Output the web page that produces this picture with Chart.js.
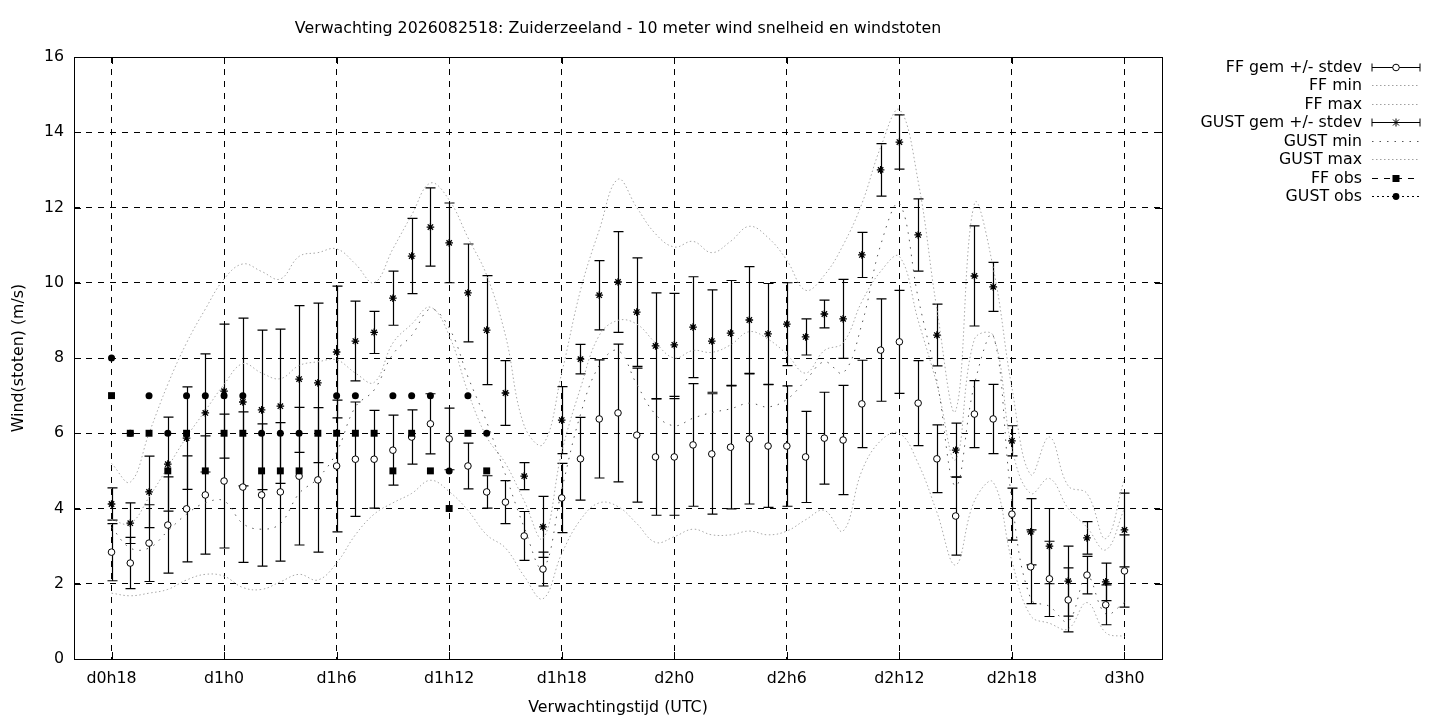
<!DOCTYPE html>
<html>
<head>
<meta charset="utf-8">
<title>Zuiderzeeland wind</title>
<script src="https://cdn.jsdelivr.net/npm/chart.js@4.4.0/dist/chart.umd.min.js"></script>
<style>
html, body { margin: 0; padding: 0; background: #fff; }
#wrap { width: 1440px; height: 720px; }
</style>
</head>
<body>
<div id="wrap"><canvas id="chart-1" width="1440" height="720"></canvas></div>
<script>
// forecast hours since d0h0
var hours = [18,19,20,21,22,23,24,25,26,27,28,29,30,31,32,33,34,35,36,37,38,39,40,41,42,43,44,45,
             46,47,48,49,50,51,52,53,54,55,56,57,58,59,60,61,62,63,64,65,66,67,68,69,70,71,72];

var xTicks = [18, 24, 30, 36, 42, 48, 54, 60, 66, 72];
var xTickLabels = ["d0h18", "d1h0", "d1h6", "d1h12", "d1h18", "d2h0", "d2h6", "d2h12", "d2h18", "d3h0"];

var ffMean = [2.84,2.55,3.08,3.56,3.99,4.36,4.73,4.57,4.36,4.44,4.86,4.76,5.13,5.31,5.31,5.55,5.9,6.25,5.85,5.13,4.44,4.17,3.27,2.39,4.28,5.32,6.38,6.54,
              5.95,5.37,5.37,5.69,5.45,5.63,5.85,5.66,5.66,5.37,5.87,5.82,6.78,8.21,8.43,6.8,5.32,3.8,6.51,6.38,3.85,2.45,2.13,1.57,2.23,1.44,2.34];
var ffStd = [0.76,0.68,1.02,1.28,1.41,1.57,1.78,2.0,1.89,1.84,1.83,1.92,1.75,1.52,1.3,0.93,0.72,0.8,0.82,0.61,0.43,0.57,0.65,0.45,0.92,1.1,1.57,1.83,
             1.78,1.55,1.55,1.63,1.6,1.64,1.73,1.63,1.6,1.21,1.22,1.45,1.16,1.36,1.37,1.13,0.9,1.04,0.89,0.92,0.69,0.98,1.0,0.85,0.5,0.53,0.96];
var gustMean = [4.12,3.61,4.44,5.18,5.87,6.54,7.12,6.83,6.62,6.72,7.44,7.34,8.16,8.45,8.68,9.59,10.71,11.48,11.06,9.73,8.74,7.07,4.86,3.51,6.35,7.97,9.67,10.02,
                9.22,8.32,8.35,8.82,8.45,8.66,9.01,8.64,8.9,8.56,9.17,9.04,10.74,13.0,13.74,11.27,8.61,5.55,10.18,9.89,5.8,3.38,3.0,2.07,3.22,2.05,3.43];
var gustStd = [0.43,0.54,0.95,1.25,1.36,1.57,1.78,2.23,2.12,2.05,1.95,2.12,1.75,1.06,0.56,0.72,1.0,1.04,1.06,1.3,1.45,0.86,0.36,0.81,0.89,0.39,0.92,1.34,
               1.44,1.41,1.37,1.34,1.36,1.4,1.42,1.34,1.1,0.48,0.37,1.05,0.6,0.7,0.72,0.96,0.82,0.72,1.33,0.65,0.4,0.88,1.0,0.93,0.43,0.5,0.98];

var ffMin = [1.75,1.68,1.75,1.85,2.1,2.25,2.2,1.9,1.85,2.05,2.25,2.1,2.55,3.3,3.85,4.15,4.4,4.75,4.45,3.95,3.3,2.95,2.2,1.6,2.8,3.7,4.15,4.05,
             3.6,3.1,3.25,3.45,3.3,3.3,3.4,3.3,3.4,3.7,3.95,3.4,5.0,5.8,6.0,5.2,3.9,2.5,4.2,4.7,2.6,1.15,0.95,0.8,1.5,0.7,0.6];
var ffMax = [3.7,3.6,4.3,5.1,5.9,6.6,7.3,7.85,7.6,7.45,7.8,7.9,7.95,7.6,7.35,8.4,8.9,9.35,8.6,7.1,5.9,5.2,4.2,3.2,5.5,7.2,8.6,9.0,
             8.9,8.4,8.0,8.2,8.15,8.35,8.7,8.5,8.1,7.6,8.2,8.4,9.5,10.3,10.7,9.0,7.3,5.3,8.5,8.6,5.6,4.4,4.8,4.0,3.5,2.9,4.0];
var gustMin = [3.5,2.95,2.95,3.4,3.85,4.15,4.2,3.6,3.45,3.6,4.4,4.8,5.5,6.7,7.15,8.1,8.6,9.3,8.8,7.5,6.3,4.9,3.5,2.4,4.5,6.5,7.8,8.2,
               7.3,6.5,6.2,6.4,6.55,6.65,6.8,6.7,6.9,7.4,7.9,7.6,8.9,11.0,12.1,9.6,7.4,4.6,7.3,8.6,4.2,1.6,1.4,1.0,2.2,1.2,1.5];
var gustMax = [5.2,4.7,6.0,7.3,8.4,9.3,10.1,10.5,10.3,10.1,10.7,10.8,10.9,10.5,10.0,10.9,11.8,12.65,12.2,11.2,10.2,8.6,6.2,5.7,7.6,9.8,11.4,12.75,
               12.0,11.3,10.95,11.1,10.8,11.1,11.5,11.2,10.6,9.8,10.2,11.0,12.1,13.6,14.6,12.7,9.3,6.6,12.1,10.4,7.2,4.9,5.9,4.6,4.4,3.2,4.8];

// observations (d0h18 .. d1h14)
var ffObs = [7,6,6,5,6,5,6,6,5,5,5,6,6,6,6,5,6,5,4,6,5];
var gustObs = [8,6,7,6,7,7,7,7,6,6,6,null,7,7,null,7,7,7,5,7,6];

var FONT = "'DejaVu Sans', sans-serif";
var FSIZE = 15.8;
Chart.defaults.font.family = FONT;
Chart.defaults.font.size = FSIZE;
Chart.defaults.color = "#000";

function pts(vals) {
    return vals.map(function (v, i) { return { x: hours[i], y: v }; });
}

function envelope(label, vals, color, dash) {
    return {
        label: label,
        data: pts(vals),
        showLine: true,
        pointRadius: 0,
        borderColor: color,
        borderWidth: 1,
        borderDash: dash,
        tension: 0.4
    };
}

// gnuplot style error bars, drawn under the markers
var errorBars = {
    id: 'errorBars',
    beforeDatasetsDraw: function (chart) {
        var c = chart.ctx, xs = chart.scales.x, ys = chart.scales.y;
        c.save();
        c.strokeStyle = "#000";
        c.lineWidth = 1.2;
        [[ffMean, ffStd], [gustMean, gustStd]].forEach(function (s) {
            s[0].forEach(function (m, i) {
                var x = Math.round(xs.getPixelForValue(hours[i])) + 0.5;
                var lo = ys.getPixelForValue(m - s[1][i]);
                var hi = ys.getPixelForValue(m + s[1][i]);
                c.beginPath();
                c.moveTo(x, lo); c.lineTo(x, hi);
                c.moveTo(x - 5, lo); c.lineTo(x + 5, lo);
                c.moveTo(x - 5, hi); c.lineTo(x + 5, hi);
                c.stroke();
            });
        });
        c.restore();
    }
};

// frame, title and key
var frame = {
    id: 'frame',
    afterDraw: function (chart) {
        var c = chart.ctx, a = chart.chartArea, xs = chart.scales.x, ys = chart.scales.y;
        c.save();
        c.strokeStyle = "#000";
        c.lineWidth = 1;
        c.setLineDash([]);
        c.strokeRect(Math.round(a.left) + 0.5, Math.round(a.top) + 0.5,
                     Math.round(a.right - a.left), Math.round(a.bottom - a.top));
        c.beginPath();
        ys.ticks.forEach(function (t) {
            var y = Math.round(ys.getPixelForValue(t.value)) + 0.5;
            c.moveTo(a.left, y); c.lineTo(a.left + 7, y);
            c.moveTo(a.right, y); c.lineTo(a.right - 7, y);
        });
        xTicks.forEach(function (v) {
            var x = Math.round(xs.getPixelForValue(v)) + 0.5;
            c.moveTo(x, a.bottom); c.lineTo(x, a.bottom - 7);
            c.moveTo(x, a.top); c.lineTo(x, a.top + 7);
        });
        c.stroke();

        c.fillStyle = "#000";
        c.font = FSIZE + "px " + FONT;
        c.textAlign = "center";
        c.textBaseline = "middle";
        c.fillText("Verwachting 2026082518: Zuiderzeeland - 10 meter wind snelheid en windstoten",
                   (a.left + a.right) / 2, 29);

        var keys = ["FF gem +/- stdev", "FF min", "FF max", "GUST gem +/- stdev",
                    "GUST min", "GUST max", "FF obs", "GUST obs"];
        var x0 = 1372, x1 = 1420, xm = 1396;
        c.textAlign = "right";
        keys.forEach(function (k, i) {
            var y = Math.round(66.5 + i * 18.5) + 0.5;
            c.fillStyle = "#000";
            c.fillText(k, 1362, y);
            c.beginPath();
            c.setLineDash([]);
            c.lineWidth = 1;
            if (i === 0 || i === 3) {
                c.strokeStyle = "#000";
                c.moveTo(x0, y); c.lineTo(x1, y);
                c.moveTo(x0, y - 4); c.lineTo(x0, y + 4);
                c.moveTo(x1, y - 4); c.lineTo(x1, y + 4);
                c.stroke();
                if (i === 0) {
                    c.beginPath(); c.arc(xm, y, 3.3, 0, Math.PI * 2);
                    c.fillStyle = "#fff"; c.fill(); c.stroke();
                } else {
                    c.beginPath();
                    c.moveTo(xm - 4, y); c.lineTo(xm + 4, y);
                    c.moveTo(xm, y - 4); c.lineTo(xm, y + 4);
                    c.moveTo(xm - 3, y - 3); c.lineTo(xm + 3, y + 3);
                    c.moveTo(xm - 3, y + 3); c.lineTo(xm + 3, y - 3);
                    c.stroke();
                }
            } else if (i === 4) {
                c.strokeStyle = "#555"; c.setLineDash([1.5, 6]);
                c.moveTo(x0, y); c.lineTo(x1, y); c.stroke();
            } else if (i === 6) {
                c.strokeStyle = "#000"; c.setLineDash([6, 6]);
                c.moveTo(x0, y); c.lineTo(x1, y); c.stroke();
                c.fillStyle = "#000"; c.fillRect(xm - 3.5, y - 3.5, 7, 7);
            } else if (i === 7) {
                c.strokeStyle = "#000"; c.setLineDash([2, 3]);
                c.moveTo(x0, y); c.lineTo(x1, y); c.stroke();
                c.beginPath(); c.arc(xm, y, 3.4, 0, Math.PI * 2);
                c.fillStyle = "#000"; c.fill();
            } else {
                c.strokeStyle = "#a0a0a0"; c.setLineDash([1.5, 2.5]);
                c.moveTo(x0, y); c.lineTo(x1, y); c.stroke();
            }
        });
        c.restore();
    }
};

var ctx_1 = document.getElementById('chart-1');
var myChart = new Chart(ctx_1, {
    type: 'scatter',
    data: {
        datasets: [
            {
                label: 'GUST obs',
                data: gustObs.map(function (v, i) { return { x: hours[i], y: v }; }),
                pointStyle: 'circle',
                pointRadius: 3.5,
                backgroundColor: "#000",
                borderColor: "#000",
                borderWidth: 0
            },
            {
                label: 'FF obs',
                data: ffObs.map(function (v, i) { return { x: hours[i], y: v }; }),
                pointStyle: 'rect',
                pointRadius: 4.9,
                backgroundColor: "#000",
                borderColor: "#000",
                borderWidth: 0
            },
            {
                label: 'FF gem +/- stdev',
                data: pts(ffMean),
                pointStyle: 'circle',
                pointRadius: 3.3,
                backgroundColor: "#fff",
                borderColor: "#000",
                borderWidth: 1
            },
            {
                label: 'GUST gem +/- stdev',
                data: pts(gustMean),
                pointStyle: 'star',
                pointRadius: 3.8,
                borderColor: "#000",
                borderWidth: 1.3
            },
            envelope('GUST max', gustMax, "#a8a8a8", [1.5, 2.5]),
            envelope('GUST min', gustMin, "#555", [1.5, 6]),
            envelope('FF max', ffMax, "#a8a8a8", [1.5, 2.5]),
            envelope('FF min', ffMin, "#a8a8a8", [1.5, 2.5])
        ]
    },
    options: {
        responsive: false,
        animation: false,
        devicePixelRatio: 1,
        layout: {
            padding: { left: 0, top: 57, right: 278, bottom: 0 }
        },
        plugins: {
            legend: { display: false },
            tooltip: { enabled: false }
        },
        scales: {
            x: {
                type: 'linear',
                min: 16,
                max: 74,
                afterBuildTicks: function (axis) {
                    axis.ticks = xTicks.map(function (v) { return { value: v }; });
                },
                afterFit: function (axis) { axis.height = 61; },
                ticks: {
                    padding: 10,
                    maxRotation: 0,
                    callback: function (v) { return xTickLabels[xTicks.indexOf(v)]; }
                },
                grid: { color: "#000", lineWidth: 1, drawTicks: false },
                border: { display: false, dash: [6, 6] },
                title: {
                    display: true,
                    text: 'Verwachtingstijd (UTC)',
                    padding: { top: 0, bottom: 3 }
                }
            },
            y: {
                min: 0,
                max: 16,
                afterFit: function (axis) { axis.width = 74; },
                ticks: { stepSize: 2, padding: 10 },
                grid: { color: "#000", lineWidth: 1, drawTicks: false },
                border: { display: false, dash: [6, 6] },
                title: {
                    display: true,
                    text: 'Wind(stoten) (m/s)',
                    padding: { top: 9, bottom: 0 }
                }
            }
        }
    },
    plugins: [errorBars, frame]
});
</script>
</body>
</html>
